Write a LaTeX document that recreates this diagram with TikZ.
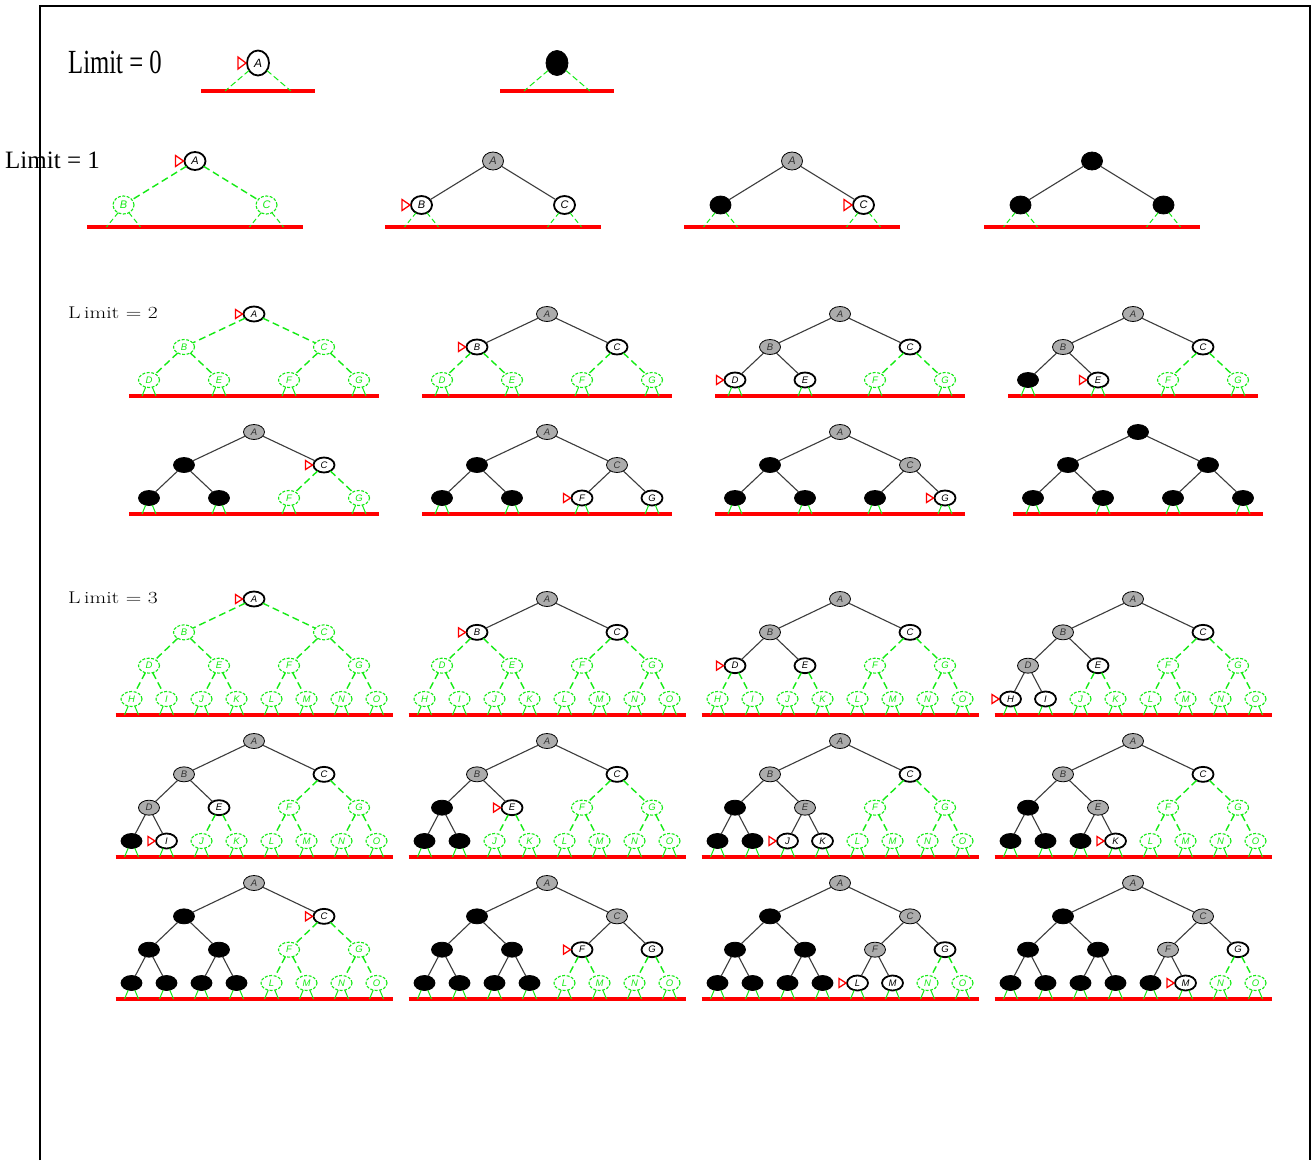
\documentclass[tikz,border=0pt]{standalone}
\usepackage{fontspec}
\usetikzlibrary{shapes.geometric}
\newfontfamily\labfont{Liberation Sans}
\newfontfamily\timesfont{Liberation Serif}
\definecolor{grn}{RGB}{20,235,20}
\definecolor{gfill}{RGB}{172,172,172}
\definecolor{edgegray}{RGB}{60,60,60}
\newcommand\letterof[1]{\ifcase#1\or A\or B\or C\or D\or E\or F\or G\or H\or I\or J\or K\or L\or M\or N\or O\fi}
\tikzset{
  tnsize/.style={},
  stubdash/.style={},
  tn/.style={ellipse, inner sep=0pt, outer sep=0pt, tnsize},
  stg/.style={draw=grn, dash pattern=on 3pt off 1.5pt, line width=1.1pt, text=grn},
  sto/.style={draw=black, fill=white, line width=1.8pt},
  stx/.style={draw=black, fill=gfill, line width=0.8pt, text=black!80},
  stb/.style={draw=black, fill=black, line width=0.8pt},
  state/.code={\if g#1\pgfkeysalso{/tikz/stg}\else\if o#1\pgfkeysalso{/tikz/sto}\else\if x#1\pgfkeysalso{/tikz/stx}\else\pgfkeysalso{/tikz/stb}\fi\fi\fi},
  soledge/.style={draw=edgegray, line width=1.1pt},
  grnedge/.style={draw=grn, line width=1.4pt, dash pattern=on 7pt off 4pt},
  edgefrom/.code={\if b#1\pgfkeysalso{/tikz/soledge}\else\if x#1\pgfkeysalso{/tikz/soledge}\else\pgfkeysalso{/tikz/grnedge}\fi\fi},
  stub/.style={draw=grn, line width=1pt, stubdash},
  redline/.style={draw=red, line width=3.5pt},
  marker/.style={draw=red, fill=white, line width=1.3pt, line join=miter},
  framestyle/.style={draw=black, line width=1.6pt},
  limlabel/.style={anchor=west, inner sep=0pt}
}
\pgfkeys{/idt/.cd,
  depth/.store in=\idtDepth, w/.store in=\idtW, dy/.store in=\idtDY,
  rl/.store in=\idtRL, rlx/.store in=\idtRLX, sa/.store in=\idtSA, sx/.store in=\idtSX,
  mark/.store in=\idtMark, mw/.store in=\idtMW, mh/.store in=\idtMH,
  nsz/.code={\tikzset{tnsize/.style={#1}}},
  sdash/.code={\tikzset{stubdash/.style={#1}}},
  L0/.style={depth=0,w=0,dy=0,rl=28,rlx=57,sa=220,sx=33,mw=8,mh=6,
    sdash={dash pattern=on 6pt off 3pt},
    nsz={minimum width=22pt,minimum height=25pt,font=\labfont\itshape\fontsize{12}{12}\selectfont}},
  L1/.style={depth=1,w=286,dy=44,rl=22,rlx=108,sa=235,sx=17,mw=8,mh=5.5,
    sdash={dash pattern=on 5pt off 3pt},
    nsz={minimum width=21pt,minimum height=18pt,font=\labfont\itshape\fontsize{11}{11}\selectfont}},
  L2/.style={depth=2,w=280,dy=33,rl=16,rlx=125,sa=245,sx=7,mw=7,mh=4.5,
    sdash={},
    nsz={minimum width=21pt,minimum height=15pt,font=\labfont\itshape\fontsize{9.5}{9.5}\selectfont}},
  L3/.style={depth=3,w=280,dy=33.33,rl=16,rlx=138.5,sa=245,sx=7,mw=7,mh=4.5,
    sdash={},
    nsz={minimum width=21pt,minimum height=15pt,font=\labfont\itshape\fontsize{9.5}{9.5}\selectfont}}
}
\newcommand\idtree[5]{%
  \pgfkeys{/idt/mark=,/idt/.cd,#1}%
  \foreach \s [count=\n] in {#5}{\expandafter\xdef\csname idst@\n\endcsname{\s}}%
  \pgfmathsetmacro\yred{#4+\idtDepth*\idtDY+\idtRL}%
  \coordinate (#2-rl-l) at (#3-\idtRLX,\yred);
  \coordinate (#2-rl-r) at (#3+\idtRLX,\yred);
  \draw[redline] (#2-rl-l) -- (#2-rl-r);
  \foreach \k in {0,...,\idtDepth}{%
    \pgfmathtruncatemacro\cnt{2^\k}%
    \pgfmathtruncatemacro\last{\cnt-1}%
    \foreach \j in {0,...,\last}{%
      \pgfmathtruncatemacro\n{\cnt+\j}%
      \pgfmathsetmacro\xx{#3-\idtW/2+\idtW*(2*\j+1)/(2*\cnt)}%
      \pgfmathsetmacro\yy{#4+\k*\idtDY}%
      \edef\st{\csname idst@\n\endcsname}%
      \edef\lt{\letterof{\n}}%
      \node[tn,state=\st] (#2-\lt) at (\xx,\yy) {\if b\st\else\lt\fi};
      \ifnum\k=\idtDepth\relax
        \pgfmathtruncatemacro\sb{540-\idtSA}%
        \coordinate (#2-\lt-sl) at (\xx-\idtSX,\yred);
        \coordinate (#2-\lt-sr) at (\xx+\idtSX,\yred);
        \draw[stub] (#2-\lt.\idtSA) -- (#2-\lt-sl);
        \draw[stub] (#2-\lt.\sb) -- (#2-\lt-sr);
      \fi
    }%
  }%
  \ifnum\idtDepth>0\relax
    \pgfmathtruncatemacro\total{2^(\idtDepth+1)-1}%
    \foreach \n in {2,...,\total}{%
      \pgfmathtruncatemacro\p{\n/2}%
      \edef\pst{\csname idst@\p\endcsname}%
      \edef\lt{\letterof{\n}}\edef\pl{\letterof{\p}}%
      \draw[edgefrom=\pst] (#2-\pl) -- (#2-\lt);
    }%
  \fi
  \ifx\idtMark\empty\else
    \coordinate (#2-mk) at ([xshift=-1pt]#2-\idtMark.west);
    \draw[marker] (#2-mk) -- ++(-\idtMW,\idtMH) -- ++(0,-2*\idtMH) -- cycle;
  \fi
}
\begin{document}
\begin{tikzpicture}[x=1pt,y=-1pt]
\useasboundingbox (0,0) rectangle (1313,1160);
\fill[white] (0,0) rectangle (1313,1160);
\coordinate (f1) at (40,1160);
\coordinate (f2) at (40,6);
\coordinate (f3) at (1310,6);
\coordinate (f4) at (1310,1160);
\draw[framestyle] (f1) -- (f2) -- (f3) -- (f4);
% labels
\node[limlabel] (lab0) at (68,62) {\scalebox{0.95}[1.3]{\timesfont\fontsize{26}{26}\selectfont Limit = 0}};
\node[limlabel] (lab1) at (5,160) {\timesfont\fontsize{25}{25}\selectfont Limit = 1};
\node[limlabel] (lab2) at (68,313) {\scalebox{1.27}[1]{\fontsize{17}{17}\selectfont L\,imit = 2}};
\node[limlabel] (lab3) at (68,598) {\scalebox{1.27}[1]{\fontsize{17}{17}\selectfont L\,imit = 3}};
% Limit 0
\idtree{L0,mark=A}{t0a}{258}{63}{o}
\idtree{L0}{t0b}{557}{63}{b}
% Limit 1
\idtree{L1,mark=A}{t1a}{195}{161}{o,g,g}
\idtree{L1,mark=B}{t1b}{493}{161}{x,o,o}
\idtree{L1,mark=C}{t1c}{792}{161}{x,b,o}
\idtree{L1}{t1d}{1092}{161}{b,b,b}
% Limit 2
\idtree{L2,mark=A}{t2a}{254}{314}{o,g,g,g,g,g,g}
\idtree{L2,mark=B}{t2b}{547}{314}{x,o,o,g,g,g,g}
\idtree{L2,mark=D}{t2c}{840}{314}{x,x,o,o,o,g,g}
\idtree{L2,mark=E}{t2d}{1133}{314}{x,x,o,b,o,g,g}
\idtree{L2,mark=C}{t2e}{254}{432}{x,b,o,b,b,g,g}
\idtree{L2,mark=F}{t2f}{547}{432}{x,b,x,b,b,o,o}
\idtree{L2,mark=G}{t2g}{840}{432}{x,b,x,b,b,b,o}
\idtree{L2}{t2h}{1138}{432}{b,b,b,b,b,b,b}
% Limit 3
\idtree{L3,mark=A}{t3a}{254}{599}{o,g,g,g,g,g,g,g,g,g,g,g,g,g,g}
\idtree{L3,mark=B}{t3b}{547}{599}{x,o,o,g,g,g,g,g,g,g,g,g,g,g,g}
\idtree{L3,mark=D}{t3c}{840}{599}{x,x,o,o,o,g,g,g,g,g,g,g,g,g,g}
\idtree{L3,mark=H}{t3d}{1133}{599}{x,x,o,x,o,g,g,o,o,g,g,g,g,g,g}
\idtree{L3,mark=I}{t3e}{254}{741}{x,x,o,x,o,g,g,b,o,g,g,g,g,g,g}
\idtree{L3,mark=E}{t3f}{547}{741}{x,x,o,b,o,g,g,b,b,g,g,g,g,g,g}
\idtree{L3,mark=J}{t3g}{840}{741}{x,x,o,b,x,g,g,b,b,o,o,g,g,g,g}
\idtree{L3,mark=K}{t3h}{1133}{741}{x,x,o,b,x,g,g,b,b,b,o,g,g,g,g}
\idtree{L3,mark=C}{t3i}{254}{883}{x,b,o,b,b,g,g,b,b,b,b,g,g,g,g}
\idtree{L3,mark=F}{t3j}{547}{883}{x,b,x,b,b,o,o,b,b,b,b,g,g,g,g}
\idtree{L3,mark=L}{t3k}{840}{883}{x,b,x,b,b,x,o,b,b,b,b,o,o,g,g}
\idtree{L3,mark=M}{t3l}{1133}{883}{x,b,x,b,b,x,o,b,b,b,b,b,o,g,g}
\end{tikzpicture}
\end{document}
